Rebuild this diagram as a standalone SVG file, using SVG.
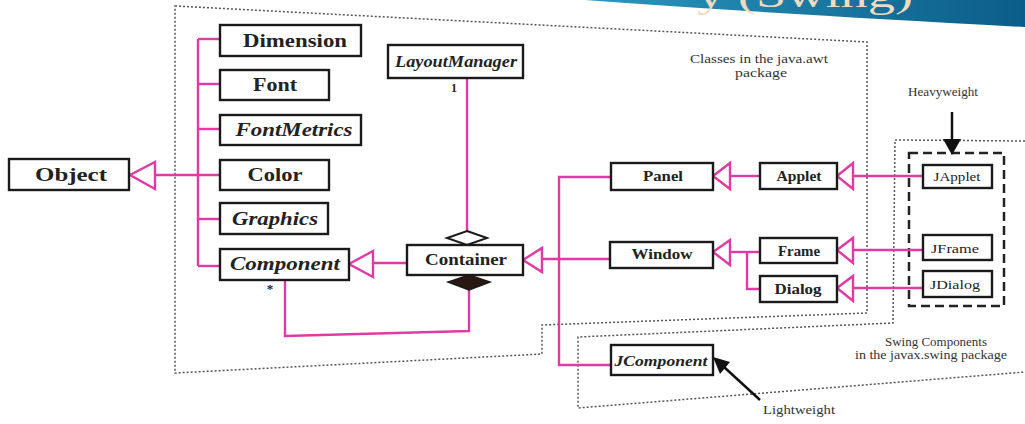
<svg xmlns="http://www.w3.org/2000/svg" width="1025" height="424" viewBox="0 0 1025 424">
<defs>
<linearGradient id="bn" x1="0" y1="0" x2="1" y2="0">
<stop offset="0" stop-color="#2a97bf"/>
<stop offset="1" stop-color="#0b5d88"/>
</linearGradient>
<style>
.box{fill:#fff;stroke:#1a1a1a;stroke-width:2.4}
.lbl{font-family:"Liberation Serif","Times New Roman",serif;fill:#222;text-anchor:middle}
.b{font-weight:bold}
.i{font-style:italic}
.pk{stroke:#e03aa4;stroke-width:2.4;fill:none}
.tri{stroke:#e03aa4;stroke-width:2.4;fill:#fff;stroke-linejoin:miter}
.dot{stroke:#555;stroke-width:1.5;fill:none;stroke-dasharray:2 2}
.note{font-family:"Liberation Serif","Times New Roman",serif;font-size:12px;fill:#333;text-anchor:middle}
</style>
</defs>
<rect width="1025" height="424" fill="#fff"/>

<!-- title banner fragment -->
<path d="M585,0 L1025,0 L1025,27 Q760,13 585,0 Z" fill="url(#bn)"/>
<text x="697" y="7" font-family="Liberation Serif, serif" font-size="36" fill="#f2dbbd" textLength="216" lengthAdjust="spacingAndGlyphs">y (Swing)</text>

<!-- package outlines -->
<g id="packages">
<polygon class="dot" points="175,6 867,42 867,313 542,325 542,354 175,373"/>
<polyline class="dot" points="1025,141 895,140 893,323 578,337 578,408 1025,372"/>
<rect x="909" y="153" width="95" height="153" fill="none" stroke="#222" stroke-width="2.5" stroke-dasharray="9 5"/>
<text class="note" x="759" y="63" textLength="138" lengthAdjust="spacingAndGlyphs">Classes in the java.awt</text>
<text class="note" x="761" y="77" textLength="52" lengthAdjust="spacingAndGlyphs">package</text>
<text class="note" x="936" y="346" textLength="102" lengthAdjust="spacingAndGlyphs">Swing Components</text>
<text class="note" x="931" y="359" textLength="152" lengthAdjust="spacingAndGlyphs">in the javax.swing package</text>
<text class="note" x="943" y="96" textLength="70" lengthAdjust="spacingAndGlyphs">Heavyweight</text>
<text class="note" x="799" y="414" textLength="72" lengthAdjust="spacingAndGlyphs">Lightweight</text>
</g>

<!-- connectors -->
<g id="connectors">
<line class="pk" x1="155" y1="175" x2="220" y2="175"/>
<line class="pk" x1="198" y1="39" x2="198" y2="266"/>
<line class="pk" x1="198" y1="39" x2="220" y2="39"/>
<line class="pk" x1="198" y1="84" x2="220" y2="84"/>
<line class="pk" x1="198" y1="129" x2="220" y2="129"/>
<line class="pk" x1="198" y1="219" x2="220" y2="219"/>
<line class="pk" x1="198" y1="266" x2="220" y2="266"/>
<polygon class="tri" points="130,175 155,162 155,189"/>

<line class="pk" x1="373" y1="263" x2="407" y2="263"/>
<polygon class="tri" points="349,264 373,251 373,277"/>

<line class="pk" x1="467" y1="78" x2="467" y2="231"/>
<polygon points="467,231 487,238 467,245 447,238" fill="#fff" stroke="#1a1a1a" stroke-width="2"/>
<polyline class="pk" points="469,290 469,331 285,336 285,280"/>
<polygon points="469,275 490,282 469,290 448,282" fill="#2b1712" stroke="#1a1a1a" stroke-width="1.5"/>

<line class="pk" x1="542" y1="259" x2="610" y2="259"/>
<polygon class="tri" points="523,260 542,248 542,272"/>
<polyline class="pk" points="611,177 559,177 559,365 611,365"/>

<line class="pk" x1="730" y1="176" x2="760" y2="176"/>
<polygon class="tri" points="713,176 730,163 730,189"/>
<line class="pk" x1="853" y1="176" x2="923" y2="176"/>
<polygon class="tri" points="837,176 853,163 853,189"/>

<line class="pk" x1="730" y1="252" x2="760" y2="252"/>
<polyline class="pk" points="747,252 747,289 760,289"/>
<polygon class="tri" points="713,252 730,240 730,265"/>
<line class="pk" x1="853" y1="250" x2="923" y2="250"/>
<polygon class="tri" points="837,250 853,238 853,263"/>
<line class="pk" x1="853" y1="288" x2="923" y2="288"/>
<polygon class="tri" points="837,288 853,276 853,301"/>

<line x1="952" y1="112" x2="952" y2="141" stroke="#111" stroke-width="2.5"/>
<polygon points="943,139 961,139 952,155" fill="#111"/>
<line x1="760" y1="400" x2="724" y2="367" stroke="#111" stroke-width="2.5"/>
<polygon points="713,357 730,362 720,374" fill="#111"/>
</g>

<!-- nodes -->
<g id="Object"><rect class="box" x="9" y="159" width="120" height="31"/><text class="lbl b" x="71" y="181" font-size="18" textLength="72" lengthAdjust="spacingAndGlyphs">Object</text></g>
<g id="Dimension"><rect class="box" x="220" y="25" width="141" height="31"/><text class="lbl b" x="295" y="47" font-size="18" textLength="104" lengthAdjust="spacingAndGlyphs">Dimension</text></g>
<g id="Font"><rect class="box" x="220" y="70" width="109" height="30"/><text class="lbl b" x="275" y="91" font-size="18" textLength="44" lengthAdjust="spacingAndGlyphs">Font</text></g>
<g id="FontMetrics"><rect class="box" x="220" y="115" width="141" height="30"/><text class="lbl b i" x="294" y="136" font-size="18" textLength="117" lengthAdjust="spacingAndGlyphs">FontMetrics</text></g>
<g id="Color"><rect class="box" x="220" y="160" width="109" height="30"/><text class="lbl b" x="275" y="181" font-size="18" textLength="55" lengthAdjust="spacingAndGlyphs">Color</text></g>
<g id="Graphics"><rect class="box" x="220" y="203" width="108" height="31"/><text class="lbl b i" x="275" y="225" font-size="18" textLength="86" lengthAdjust="spacingAndGlyphs">Graphics</text></g>
<g id="Component"><rect class="box" x="220" y="249" width="129" height="31"/><text class="lbl b i" x="285" y="270" font-size="18" textLength="110" lengthAdjust="spacingAndGlyphs">Component</text><text class="lbl b" x="270" y="293" font-size="13">*</text></g>
<g id="LayoutManager"><rect class="box" x="388" y="45" width="135" height="33"/><text class="lbl b i" x="456" y="67" font-size="16" textLength="122" lengthAdjust="spacingAndGlyphs">LayoutManager</text><text class="lbl b" x="454" y="92" font-size="12">1</text></g>
<g id="Container"><rect class="box" x="407" y="245" width="116" height="30"/><text class="lbl b" x="466" y="265" font-size="17" textLength="82" lengthAdjust="spacingAndGlyphs">Container</text></g>
<g id="Panel"><rect class="box" x="611" y="163" width="102" height="27"/><text class="lbl b" x="663" y="181" font-size="14" textLength="40" lengthAdjust="spacingAndGlyphs">Panel</text></g>
<g id="Window"><rect class="box" x="610" y="242" width="103" height="26"/><text class="lbl b" x="662" y="259" font-size="15" textLength="61" lengthAdjust="spacingAndGlyphs">Window</text></g>
<g id="JComponent"><rect class="box" x="611" y="345" width="102" height="30"/><text class="lbl b i" x="661" y="366" font-size="15" textLength="93" lengthAdjust="spacingAndGlyphs">JComponent</text></g>
<g id="Applet"><rect class="box" x="760" y="163" width="77" height="26"/><text class="lbl b" x="799" y="181" font-size="14" textLength="45" lengthAdjust="spacingAndGlyphs">Applet</text></g>
<g id="Frame"><rect class="box" x="760" y="238" width="77" height="25"/><text class="lbl b" x="799" y="256" font-size="14" textLength="42" lengthAdjust="spacingAndGlyphs">Frame</text></g>
<g id="Dialog"><rect class="box" x="760" y="276" width="77" height="26"/><text class="lbl b" x="798" y="294" font-size="14" textLength="47" lengthAdjust="spacingAndGlyphs">Dialog</text></g>
<g id="JApplet"><rect class="box" x="923" y="165" width="69" height="23"/><text class="lbl" x="957" y="181" font-size="13" textLength="47" lengthAdjust="spacingAndGlyphs">JApplet</text></g>
<g id="JFrame"><rect class="box" x="923" y="235" width="69" height="25"/><text class="lbl" x="955" y="253" font-size="13" textLength="48" lengthAdjust="spacingAndGlyphs">JFrame</text></g>
<g id="JDialog"><rect class="box" x="923" y="271" width="69" height="26"/><text class="lbl" x="955" y="289" font-size="13" textLength="50" lengthAdjust="spacingAndGlyphs">JDialog</text></g>
</svg>
